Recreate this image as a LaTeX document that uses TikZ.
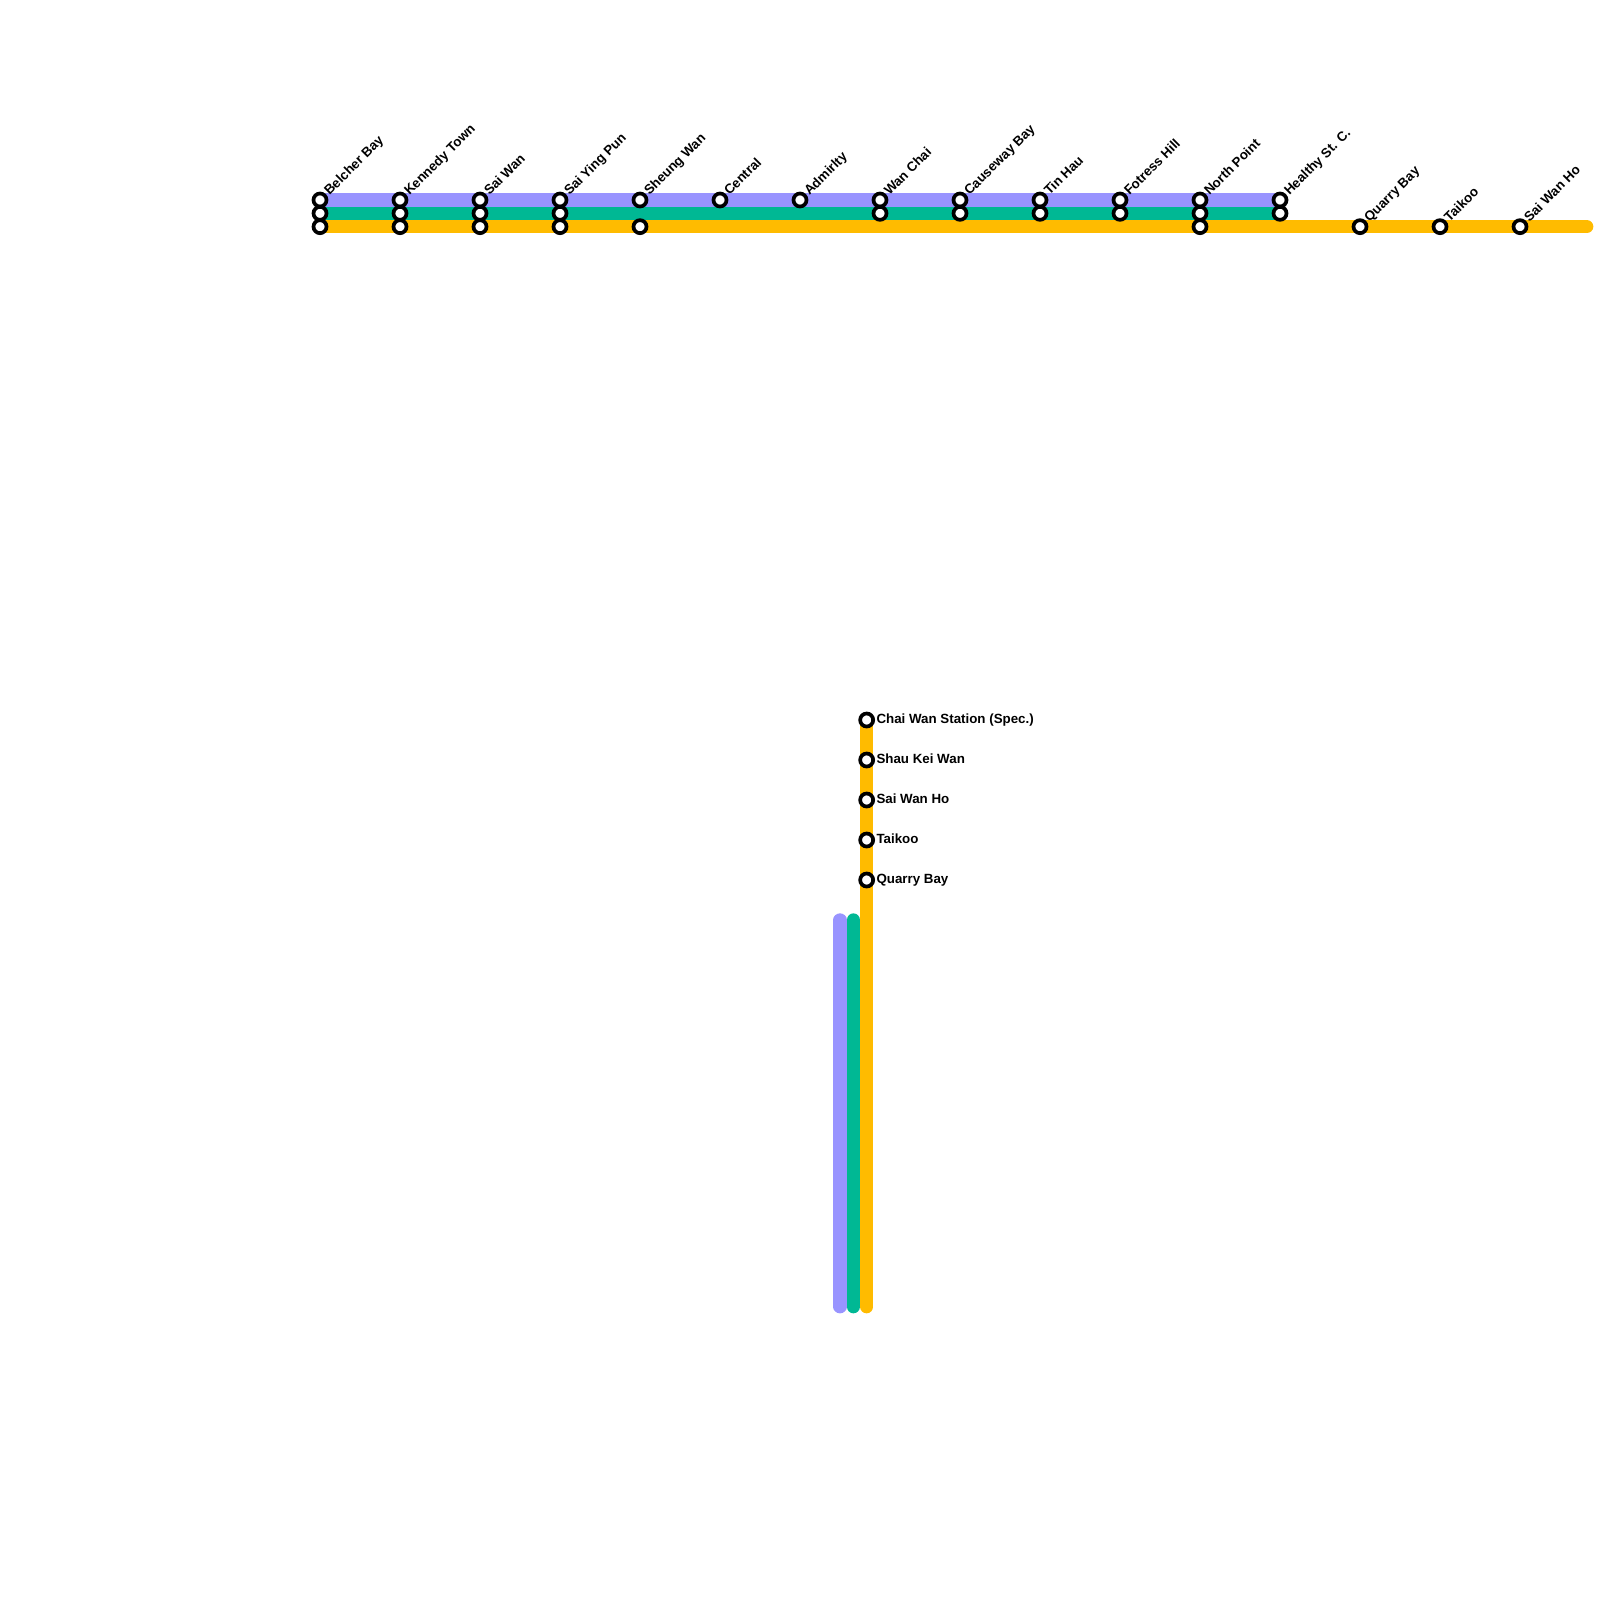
\documentclass[tikz,border=0pt]{standalone}
\usepackage{fontspec}
\setmainfont{Liberation Sans}
\definecolor{linep}{RGB}{153,148,255}
\definecolor{lineg}{RGB}{0,184,148}
\definecolor{liney}{RGB}{255,187,0}
\tikzset{
 rail/.style={line width=13.33pt,line cap=round},
 stn/.style={circle,draw=black,fill=white,line width=3.7pt,minimum size=13pt,inner sep=0pt},
 lbl/.style={inner sep=0pt,font=\fontsize{13.33}{15}\selectfont\bfseries,text=black},
 lblr/.style={lbl,anchor=base west,rotate=45},
 lblh/.style={lbl,anchor=base west}
}
\begin{document}
\begin{tikzpicture}[x=1pt,y=-1pt]
\useasboundingbox (0,0) rectangle (1600,1600);
\def\ya{200}\def\yb{213.33}\def\yc{226.67}
% horizontal stations
\foreach \n/\x in {a/320,b/400,c/480,d/560,e/640,f/720,g/800,h/880,i/960,j/1040,k/1120,l/1200,m/1280}
  \coordinate (p\n) at (\x,\ya);
\foreach \n/\x in {a/320,b/400,c/480,d/560,h/880,i/960,j/1040,k/1120,l/1200,m/1280}
  \coordinate (g\n) at (\x,\yb);
\foreach \n/\x in {a/320,b/400,c/480,d/560,e/640,l/1200,n/1360,o/1440,p/1520}
  \coordinate (y\n) at (\x,\yc);
\coordinate (yend) at (1586.67,\yc);
\coordinate (vpt) at (840,920);\coordinate (vpb) at (840,1306.67);
\coordinate (vgt) at (853.33,920);\coordinate (vgb) at (853.33,1306.67);
\coordinate (vyt) at (866.67,720);\coordinate (vyb) at (866.67,1306.67);
% lines
\draw[rail,linep] (pa) -- (pm);
\draw[rail,lineg] (ga) -- (gm);
\draw[rail,liney] (ya) -- (yend);
\draw[rail,linep] (vpt) -- (vpb);
\draw[rail,lineg] (vgt) -- (vgb);
\draw[rail,liney] (vyt) -- (vyb);
% station markers
\foreach \n in {a,b,c,d,e,f,g,h,i,j,k,l,m}
  \node[stn] (sp\n) at (p\n) {};
\foreach \n in {a,b,c,d,h,i,j,k,l,m}
  \node[stn] (sg\n) at (g\n) {};
\foreach \n in {a,b,c,d,e,l,n,o,p}
  \node[stn] (sy\n) at (y\n) {};
\foreach \n/\y in {a/720,b/760,c/800,d/840,e/880}
  \node[stn] (sv\n) at (866.67,\y) {};
% labels
\foreach \n/\t in {a/Belcher Bay,b/Kennedy Town,c/Sai Wan,d/Sai Ying Pun,e/Sheung Wan,f/Central,g/Admirlty,h/Wan Chai,i/Causeway Bay,j/Tin Hau,k/Fotress Hill,l/North Point,m/Healthy St. C.}
  \node[lblr] (tp\n) at ([xshift=9.5pt,yshift=4pt]p\n) {\t};
\foreach \n/\t in {n/Quarry Bay,o/Taikoo,p/Sai Wan Ho}
  \node[lblr] (ty\n) at ([xshift=9.5pt,yshift=4pt]y\n) {\t};
\foreach \n/\y/\t in {a/720/Chai Wan Station (Spec.),b/760/Shau Kei Wan,c/800/Sai Wan Ho,d/840/Taikoo,e/880/Quarry Bay}
  \node[lblh] (tv\n) at (876.3,\y+3.3) {\t};
\end{tikzpicture}
\end{document}
